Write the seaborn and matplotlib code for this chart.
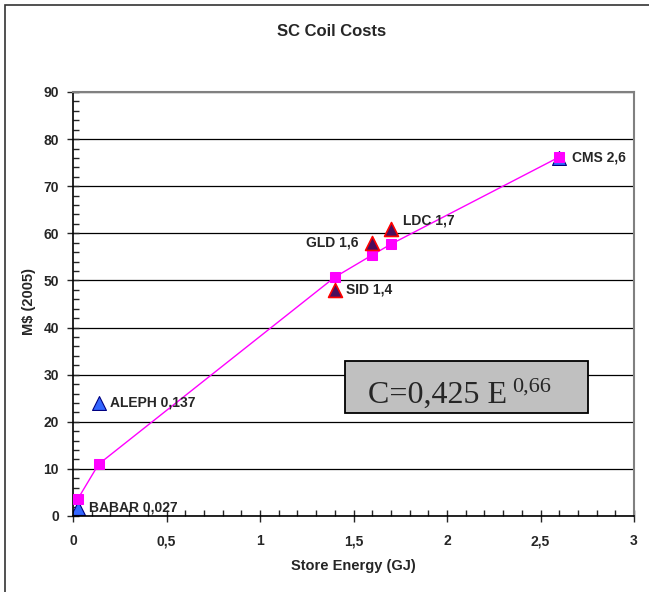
import matplotlib
matplotlib.use('Agg')
import matplotlib.pyplot as plt
import numpy as np
import pandas as pd
import seaborn as sns
from matplotlib.ticker import MultipleLocator, FuncFormatter
from matplotlib.patches import Rectangle

# measured coils (energy in GJ, cost in M$ 2005)
names = ['BABAR 0,027', 'ALEPH 0,137', 'SID 1,4', 'GLD 1,6', 'LDC 1,7', 'CMS 2,6']
energy = [0.027, 0.137, 1.4, 1.6, 1.7, 2.6]
cost = [1.8, 24.0, 48.0, 58.0, 61.0, 76.0]
group = ['old', 'old', 'ilc', 'ilc', 'ilc', 'old']

# fitted curve points
fit_cost = [3.7, 11.0, 50.7, 55.4, 57.7, 76.2]

df = pd.DataFrame({'name': names, 'energy': energy, 'cost': cost, 'group': group})
fit = pd.DataFrame({'energy': energy, 'cost': fit_cost})

sns.set_style('white')
plt.rcParams['font.family'] = ['Liberation Sans', 'DejaVu Sans']

fig = plt.figure(figsize=(6.49, 5.92), dpi=100)
ax = fig.add_axes([0.1125, 0.1284, 0.8645, 0.7162])

# outer frame of the figure
fig.patches.append(Rectangle((5 / 649, -0.1), 1.2, 1.1 - 5 / 592, transform=fig.transFigure,
                             fill=False, edgecolor='#333333', linewidth=1.2))

ax.set_xlim(0, 3)
ax.set_ylim(0, 90)
ax.yaxis.grid(True, color='black', linewidth=0.9)
ax.set_axisbelow(True)

sns.lineplot(data=fit, x='energy', y='cost', color='#ff00ff', linewidth=1,
             marker='s', markersize=7, markeredgecolor='#ff00ff', ax=ax, zorder=3)

sns.scatterplot(data=df[df.group == 'old'], x='energy', y='cost', marker='^', s=100,
                color='#3366ff', edgecolor='#000080', linewidth=0.8, ax=ax, zorder=2)
sns.scatterplot(data=df[df.group == 'ilc'], x='energy', y='cost', marker='^', s=100,
                color='#4a0e5c', edgecolor='#ff0000', linewidth=1.2, ax=ax, zorder=4)

offsets = {'BABAR 0,027': (8, 0, 'left'), 'ALEPH 0,137': (8, 0, 'left'), 'SID 1,4': (8, 0, 'left'),
           'GLD 1,6': (-10, 0, 'right'), 'LDC 1,7': (9, 6, 'left'), 'CMS 2,6': (9, 0, 'left')}
for _, r in df.iterrows():
    dx, dy, ha = offsets[r['name']]
    ax.annotate(r['name'], (r['energy'], r['cost']), xytext=(dx, dy), textcoords='offset points',
                ha=ha, va='center', fontsize=10, fontweight='bold')

ax.xaxis.set_major_locator(MultipleLocator(0.5))
ax.xaxis.set_minor_locator(MultipleLocator(0.1))
ax.yaxis.set_major_locator(MultipleLocator(10))
ax.yaxis.set_minor_locator(MultipleLocator(2))
ax.xaxis.set_major_formatter(FuncFormatter(lambda v, p: ('%g' % v).replace('.', ',')))
ax.tick_params(which='major', direction='inout', length=8, width=1, labelsize=10)
ax.tick_params(which='minor', direction='in', length=4, width=1)
ax.tick_params(axis='x', which='both', bottom=True, top=False, pad=9)
ax.tick_params(axis='y', which='both', left=True, right=False, pad=6)
for lab in ax.get_xticklabels() + ax.get_yticklabels():
    lab.set_fontweight('bold')

for s in ['left', 'bottom']:
    ax.spines[s].set_color('black')
    ax.spines[s].set_linewidth(1.2)
for s in ['right', 'top']:
    ax.spines[s].set_color('#808080')
    ax.spines[s].set_linewidth(1.5)

ax.set_xlabel('Store Energy (GJ)', fontsize=10.5, fontweight='bold', labelpad=8)
ax.set_ylabel('M$ (2005)', fontsize=10.5, fontweight='bold')
ax.yaxis.set_label_coords(-0.066, 0.505)
fig.text(0.511, 0.946, 'SC Coil Costs', ha='center', va='center', fontsize=12, fontweight='bold')

# formula box
ax.add_patch(Rectangle((1.455, 21.9), 1.3, 11.0, facecolor='#c0c0c0', edgecolor='black',
                       linewidth=1.3, zorder=5))
ax.text(1.578, 25.6, 'C=0,425 E', fontsize=23, family='Liberation Serif',
        va='center', ha='left', zorder=6)
ax.text(2.35, 27.4, '0,66', fontsize=16, family='Liberation Serif',
        va='center', ha='left', zorder=6)

fig.savefig('out.png', dpi=100)
